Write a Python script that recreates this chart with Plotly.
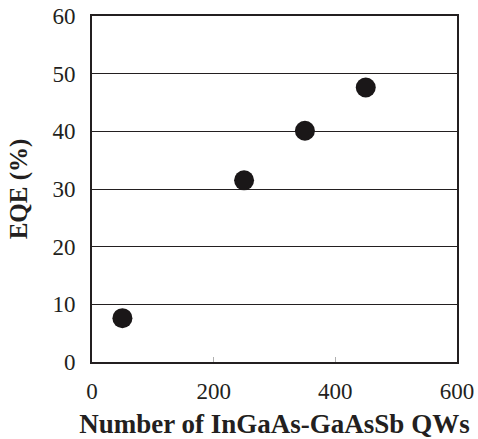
import plotly.graph_objects as go

qw_counts = [50, 250, 350, 450]
eqe_percent = [7.6, 31.5, 40.1, 47.6]
x_tick_vals = [0, 200, 400, 600]
y_tick_vals = [0, 10, 20, 30, 40, 50, 60]

fig = go.Figure()
fig.add_trace(go.Scatter(
    x=qw_counts, y=eqe_percent, mode="markers",
    marker=dict(size=20, color="#1a1718", line=dict(width=0)),
    showlegend=False, cliponaxis=False,
))

font_family = "Liberation Serif, Times New Roman, serif"
tick_font = dict(family=font_family, size=23, color="#231f20")
x_title_font = dict(family=font_family, size=27, color="#231f20")
y_title_font = dict(family=font_family, size=25, color="#231f20")
fig.update_layout(
    width=478, height=439,
    margin=dict(l=92, r=21, t=16, b=77, autoexpand=False),
    paper_bgcolor="white", plot_bgcolor="white",
    font=dict(family=font_family, size=23, color="#231f20"),
    xaxis=dict(
        range=[0, 600], tickvals=x_tick_vals,
        showgrid=False, zeroline=False, automargin=False,
        showline=True, linecolor="#231f20", linewidth=1.5, mirror=True,
        ticks="inside", ticklen=5, tickcolor="#b0b0b0", tickwidth=1,
        ticklabelstandoff=8, ticklabeloverflow="allow",
        tickfont=tick_font,
        title=dict(text="<b>Number of InGaAs-GaAsSb QWs</b>", font=x_title_font, standoff=18),
    ),
    yaxis=dict(
        range=[0, 60], tickvals=y_tick_vals,
        showgrid=True, gridcolor="#231f20", gridwidth=1,
        zeroline=False, automargin=False,
        showline=True, linecolor="#231f20", linewidth=2, mirror=True,
        ticks="", tickfont=tick_font,
        ticklabelstandoff=10, ticklabeloverflow="allow",
        title=dict(text="<b>EQE (%)</b>", font=y_title_font, standoff=18),
    ),
)

fig.write_html("out.html", config={"displayModeBar": False},
               post_script="document.body.style.margin='0';")
